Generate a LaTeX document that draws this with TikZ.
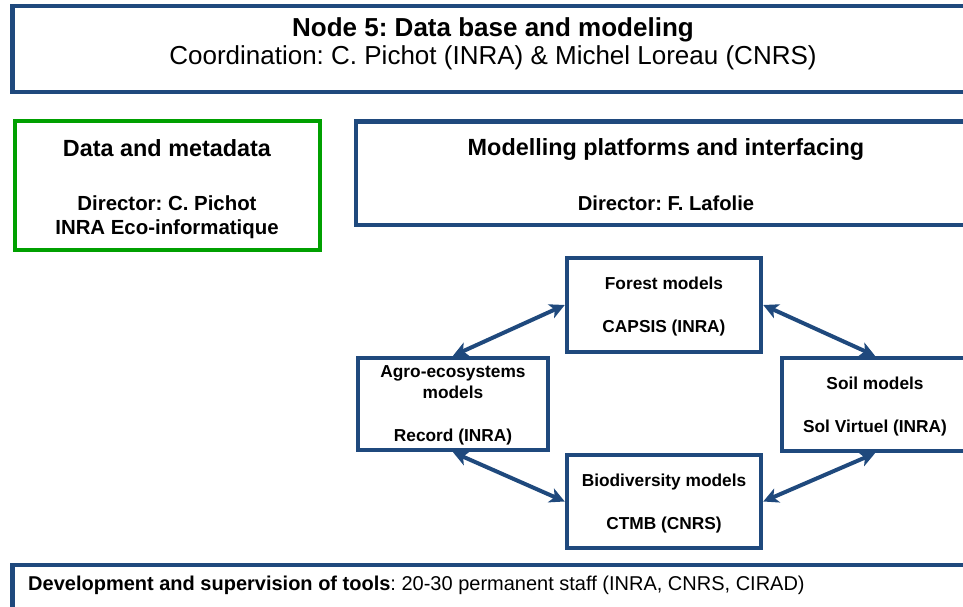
\documentclass[tikz,border=0pt]{standalone}
\usepackage{fontspec}
\setmainfont{Liberation Sans}
\usepackage{tikz}
\usetikzlibrary{arrows.meta}

\definecolor{nodeblue}{RGB}{31,73,125}
\definecolor{datagreen}{RGB}{0,160,0}

\tikzset{
  frame/.style = {draw = nodeblue, line width = 4.5pt, rectangle, inner sep = 0pt},
  greenframe/.style = {draw = datagreen, line width = 4pt, rectangle, inner sep = 0pt},
  model/.style = {frame, align = center, font = \bfseries\fontsize{17.3}{21}\selectfont,
    text depth = 0pt},
  label/.style = {inner sep = 0pt, anchor = base},
  link/.style = {draw = nodeblue, line width = 4pt,
    {Stealth[length = 15pt, width = 15pt, inset = 4pt]}-{Stealth[length = 15pt, width = 15pt, inset = 4pt]}}
}

\begin{document}
\frenchspacing
\begin{tikzpicture}[x = 1pt, y = -1pt]
\useasboundingbox (0,0) rectangle (963,607);
\clip (0,0) rectangle (963,607);
% header
\node[frame, minimum width = 961.5pt, minimum height = 86pt] (top) at (493.25,49.2) {};
\node[label, font = \bfseries\fontsize{26}{30}\selectfont] (title) at (493,37) {Node 5: Data base and modeling};
\node[label, font = \fontsize{26}{30}\selectfont] (coord) at (493,64.5) {Coordination: C. Pichot (INRA) \& Michel Loreau (CNRS)};
% data and metadata
\node[greenframe, minimum width = 305pt, minimum height = 128pt] (data) at (167,185.5) {};
\node[label, font = \bfseries\fontsize{23.4}{28}\selectfont] (datatitle) at (167,157) {Data and metadata};
\node[label, align = center, font = \bfseries\fontsize{20.4}{24}\selectfont] (datadir) at (167,234) {Director: C. Pichot\\INRA Eco-informatique};
% modelling platforms
\node[frame, minimum width = 620pt, minimum height = 103.5pt] (platform) at (666,173.25) {};
\node[label, font = \bfseries\fontsize{23.4}{28}\selectfont] (platformtitle) at (666,155) {Modelling platforms and interfacing};
\node[label, font = \bfseries\fontsize{20.2}{24}\selectfont] (platformdir) at (666,210) {Director: F. Lafolie};
% models
\node[model, minimum width = 194pt, minimum height = 94pt] (forest) at (664,305) {Forest models\\[22pt]CAPSIS (INRA)};
\node[model, minimum width = 190pt, minimum height = 92pt] (agro) at (453,404) {Agro-ecosystems\\models\\[22pt]Record (INRA)};
\node[model, minimum width = 186pt, minimum height = 93pt] (soil) at (875,404.5) {Soil models\\[22pt]Sol Virtuel (INRA)};
\node[model, minimum width = 194pt, minimum height = 93pt] (biodiv) at (664,501.5) {Biodiversity models\\[22pt]CTMB (CNRS)};
\draw[link] (agro.north) -- (forest.west);
\draw[link] (forest.east) -- (soil.north);
\draw[link] (agro.south) -- (biodiv.west);
\draw[link] (soil.south) -- (biodiv.east);
% staff
\node[frame, minimum width = 977.5pt, minimum height = 75pt] (staff) at (501.25,602.5) {};
\node[label, anchor = base west, font = \fontsize{20}{24}\selectfont] (stafftext) at (28,590) {\textbf{Development and supervision of tools}: 20-30 permanent staff (INRA, CNRS, CIRAD)};
\end{tikzpicture}
\end{document}
